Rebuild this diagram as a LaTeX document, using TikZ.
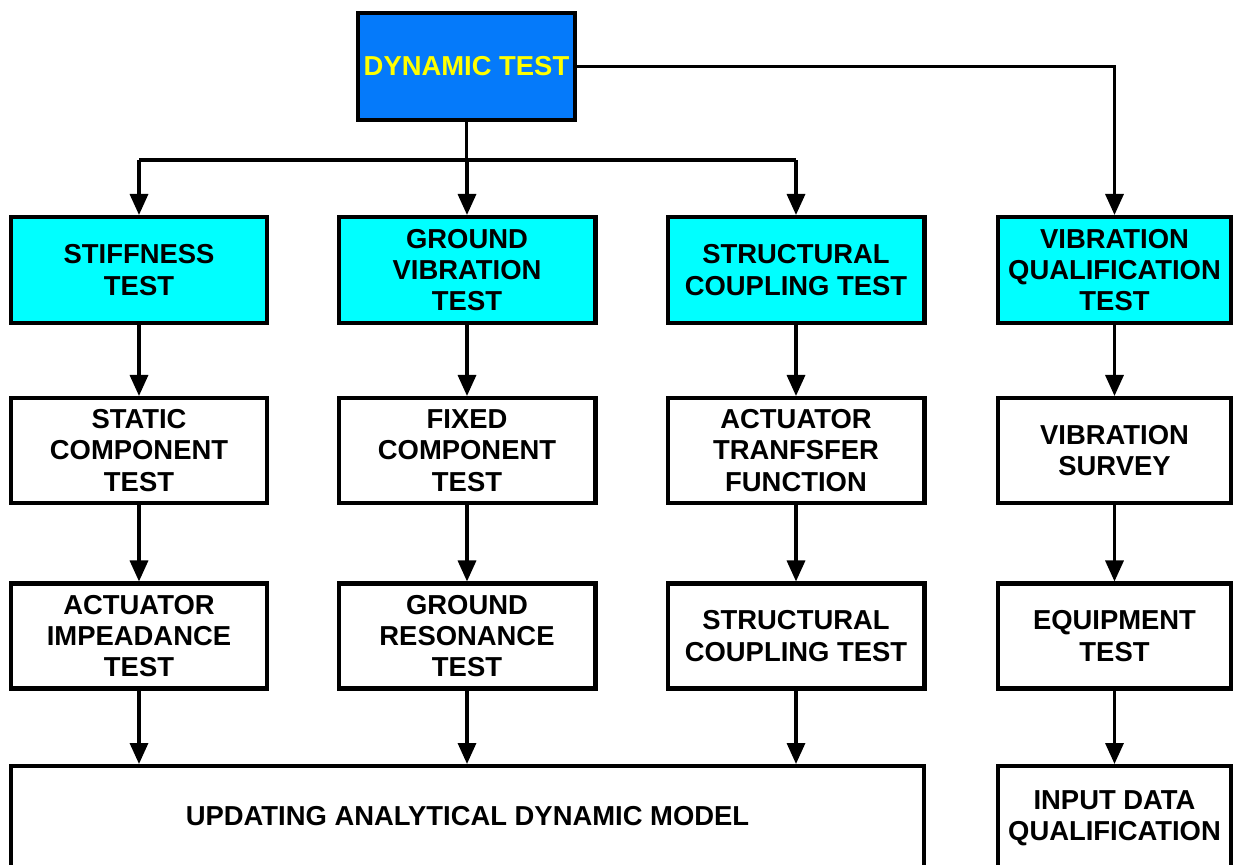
\documentclass[tikz,border=0pt]{standalone}
\usepackage{fontspec}
\setmainfont{Liberation Sans}
\usetikzlibrary{arrows.meta}

\definecolor{dynblue}{RGB}{5,122,250}
\definecolor{typecyan}{RGB}{0,255,255}
\definecolor{dynyellow}{RGB}{255,255,0}

\tikzset{
	box/.style={draw, line width=2.3pt, align=center, inner sep=2pt,
		font=\fontsize{15.6}{17.8}\selectfont\bfseries},
	mainbox/.style={box, fill=dynblue, text=dynyellow,
		minimum width=4.34cm, minimum height=2.14cm},
	typebox/.style={box, fill=typecyan, minimum width=5.14cm, minimum height=2.12cm},
	itembox/.style={box, fill=white, minimum width=5.14cm, minimum height=2.1cm},
	conn/.style={line width=1.9pt},
	arr/.style={conn, -{Triangle[width=0.36cm, length=0.42cm]}}
}

\begin{document}
\begin{tikzpicture}[x=0.02cm, y=-0.02cm]

	\useasboundingbox (0,0) rectangle (1234,865);

	% top
	\node[mainbox] (dyn) at (466.5,66.5) {DYNAMIC TEST};

	% kinds of test
	\node[typebox] (stiff) at (139,270) {STIFFNESS\\TEST};
	\node[typebox] (gvt)   at (467,270) {GROUND\\VIBRATION\\TEST};
	\node[typebox] (sct)   at (796,270) {STRUCTURAL\\COUPLING TEST};
	\node[typebox, minimum width=4.66cm] (vqt) at (1114.5,270)
		{VIBRATION\\QUALIFICATION\\TEST};

	% second row
	\node[itembox] (static) at (139,450.5) {STATIC\\COMPONENT\\TEST};
	\node[itembox] (fixed)  at (467,450.5) {FIXED\\COMPONENT\\TEST};
	\node[itembox] (atf)    at (796,450.5) {ACTUATOR\\TRANFSFER\\FUNCTION};
	\node[itembox, minimum width=4.66cm] (survey) at (1114.5,450.5)
		{VIBRATION\\SURVEY};

	% third row
	\node[itembox] (aimp)  at (139,636) {ACTUATOR\\IMPEADANCE\\TEST};
	\node[itembox] (grt)   at (467,636) {GROUND\\RESONANCE\\TEST};
	\node[itembox] (sct2)  at (796,636) {STRUCTURAL\\COUPLING TEST};
	\node[itembox, minimum width=4.66cm] (equip) at (1114.5,636)
		{EQUIPMENT\\TEST};

	% bottom boxes (run off the page)
	\node[itembox, anchor=north, minimum width=18.26cm, inner ysep=0pt,
		text height=1.19cm, text depth=2cm] (upd) at (467.5,764)
		{UPDATING ANALYTICAL DYNAMIC MODEL};
	\node[itembox, anchor=north, minimum width=4.66cm, inner ysep=0pt,
		text height=1.49cm, text depth=2cm] (idq) at (1114.5,764)
		{INPUT DATA\\QUALIFICATION};

	% connectors from the top box
	\coordinate (bus) at (466.5,160);
	\draw[conn] (dyn.south) -- (bus);
	\draw[conn] (stiff.north |- bus) -- (sct.north |- bus);
	\foreach \n in {stiff,gvt,sct}
		\draw[arr] (\n.north |- bus) -- (\n.north);
	\draw[arr] (dyn.east) -| (vqt.north);

	% down the columns
	\draw[arr] (stiff) -- (static);
	\draw[arr] (static) -- (aimp);
	\draw[arr] (gvt) -- (fixed);
	\draw[arr] (fixed) -- (grt);
	\draw[arr] (sct) -- (atf);
	\draw[arr] (atf) -- (sct2);
	\draw[arr] (vqt) -- (survey);
	\draw[arr] (survey) -- (equip);
	\draw[arr] (equip) -- (idq);
	\foreach \n in {aimp,grt,sct2}
		\draw[arr] (\n.south) -- (\n.south |- upd.north);

\end{tikzpicture}
\end{document}
